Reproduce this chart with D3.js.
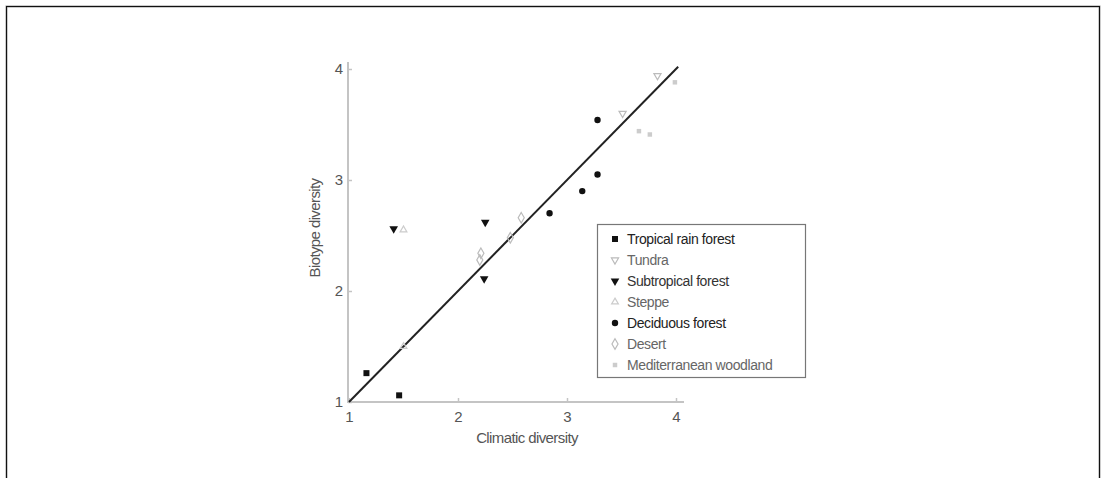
<!DOCTYPE html>
<html>
<head>
<meta charset="utf-8">
<script src="https://cdn.jsdelivr.net/npm/d3@7/dist/d3.min.js"></script>
<style>
  html, body { margin: 0; padding: 0; background: #fff; }
  svg { display: block; }
  text { font-family: "Liberation Sans", Arial, sans-serif; }
</style>
</head>
<body>
<svg id="chart" width="1102" height="478"></svg>
<script>
// Biome series: [climatic diversity, biotype diversity]
const tropicalRainForest = [[1.16, 1.26], [1.46, 1.06]];
const tundra = [[3.83, 3.94], [3.51, 3.60]];
const subtropicalForest = [[1.41, 2.56], [2.25, 2.62], [2.24, 2.11]];
const steppe = [[1.50, 1.50], [1.50, 2.55]];
const deciduousForest = [[2.84, 2.70], [3.14, 2.90], [3.28, 3.05], [3.28, 3.54]];
const desert = [[2.58, 2.66], [2.48, 2.48], [2.21, 2.34], [2.20, 2.28]];
const mediterraneanWoodland = [[3.99, 3.88], [3.66, 3.44], [3.76, 3.41]];

const seriesNames = ["Tropical rain forest", "Tundra", "Subtropical forest", "Steppe",
                     "Deciduous forest", "Desert", "Mediterranean woodland"];
const xTicks = [1, 2, 3, 4];
const yTicks = [1, 2, 3, 4];
// Fitted line (1:1)
const fitLine = [[1, 1], [4.02, 4.02]];

const series = [
  { name: seriesNames[0], data: tropicalRainForest, sym: d3.symbolSquare, fill: "#111", stroke: "none", size: 36, text: "#222" },
  { name: seriesNames[1], data: tundra, sym: d3.symbolTriangle, rot: 180, fill: "none", stroke: "#bbb", size: 22, text: "#666" },
  { name: seriesNames[2], data: subtropicalForest, sym: d3.symbolTriangle, rot: 180, fill: "#111", stroke: "none", size: 32, text: "#333" },
  { name: seriesNames[3], data: steppe, sym: d3.symbolTriangle, fill: "none", stroke: "#ccc", size: 20, text: "#666" },
  { name: seriesNames[4], data: deciduousForest, sym: d3.symbolCircle, fill: "#111", stroke: "none", size: 32, text: "#222" },
  { name: seriesNames[5], data: desert, sym: d3.symbolDiamond, fill: "none", stroke: "#bbb", size: 32, text: "#666" },
  { name: seriesNames[6], data: mediterraneanWoodland, sym: d3.symbolSquare, fill: "#ccc", stroke: "none", size: 20, text: "#666" }
];

const svg = d3.select("#chart");

// Outer frame
svg.append("rect")
  .attr("x", 6.5).attr("y", 6.5).attr("width", 1093).attr("height", 500)
  .attr("fill", "none").attr("stroke", "#999").attr("stroke-width", 2);
svg.append("rect")
  .attr("x", 6.5).attr("y", 6.5).attr("width", 1093).attr("height", 500)
  .attr("fill", "none").attr("stroke", "#111").attr("stroke-width", 1);

const x = d3.scaleLinear().domain([1, 4]).range([349, 676]);
const y = d3.scaleLinear().domain([1, 4]).range([402, 69]);

// Axes
const axisColor = "#c4c4c4";
const xAxis = svg.append("g").attr("transform", "translate(0,402)")
  .call(d3.axisBottom(x).tickValues(xTicks).tickFormat(d3.format("d")).tickSize(-4).tickPadding(9));
xAxis.select(".domain").remove();
xAxis.append("line").attr("x1", 347).attr("x2", 684).attr("stroke", axisColor).attr("stroke-width", 2);

const yAxis = svg.append("g").attr("transform", "translate(348,0)")
  .call(d3.axisLeft(y).tickValues(yTicks).tickFormat(d3.format("d")).tickSize(-4).tickPadding(5));
yAxis.select(".domain").remove();
yAxis.append("line").attr("y1", 403).attr("y2", 62).attr("stroke", axisColor).attr("stroke-width", 2);

[xAxis, yAxis].forEach(g => {
  g.selectAll(".tick line").attr("stroke", axisColor).attr("stroke-width", 1.5);
  g.selectAll(".tick text").attr("fill", "#555").attr("font-size", 15)
    .attr("font-family", "'Liberation Sans', Arial, sans-serif");
});

// Axis titles
svg.append("text").attr("x", 527).attr("y", 443).attr("text-anchor", "middle")
  .attr("font-size", 15).attr("fill", "#555").attr("letter-spacing", -0.6)
  .text("Climatic diversity");
svg.append("text").attr("transform", "translate(320,228) rotate(-90)").attr("text-anchor", "middle")
  .attr("font-size", 15).attr("fill", "#555").attr("letter-spacing", -0.6)
  .text("Biotype diversity");

// Fitted line
svg.append("path")
  .attr("d", d3.line().x(d => x(d[0])).y(d => y(d[1]))(fitLine))
  .attr("fill", "none").attr("stroke", "#222").attr("stroke-width", 2);

// Points
series.forEach(s => {
  svg.append("g").selectAll("path").data(s.data).join("path")
    .attr("d", d3.symbol().type(s.sym).size(s.size))
    .attr("transform", d => `translate(${x(d[0])},${y(d[1])}) rotate(${s.rot || 0})`)
    .attr("fill", s.fill).attr("stroke", s.stroke).attr("stroke-width", 1.2);
});

// Legend
const legend = svg.append("g");
legend.append("rect").attr("x", 597.5).attr("y", 224.5).attr("width", 208).attr("height", 153)
  .attr("fill", "#fff").attr("stroke", "#777").attr("stroke-width", 1.2);
series.forEach((s, i) => {
  const ly = 239 + i * 21;
  legend.append("path")
    .attr("d", d3.symbol().type(s.sym).size(s.size))
    .attr("transform", `translate(615,${ly}) rotate(${s.rot || 0})`)
    .attr("fill", s.fill).attr("stroke", s.stroke).attr("stroke-width", 1.2);
  legend.append("text").attr("x", 627).attr("y", ly + 5)
    .attr("font-size", 14).attr("fill", s.text).attr("letter-spacing", -0.4)
    .text(s.name);
});
</script>
</body>
</html>
